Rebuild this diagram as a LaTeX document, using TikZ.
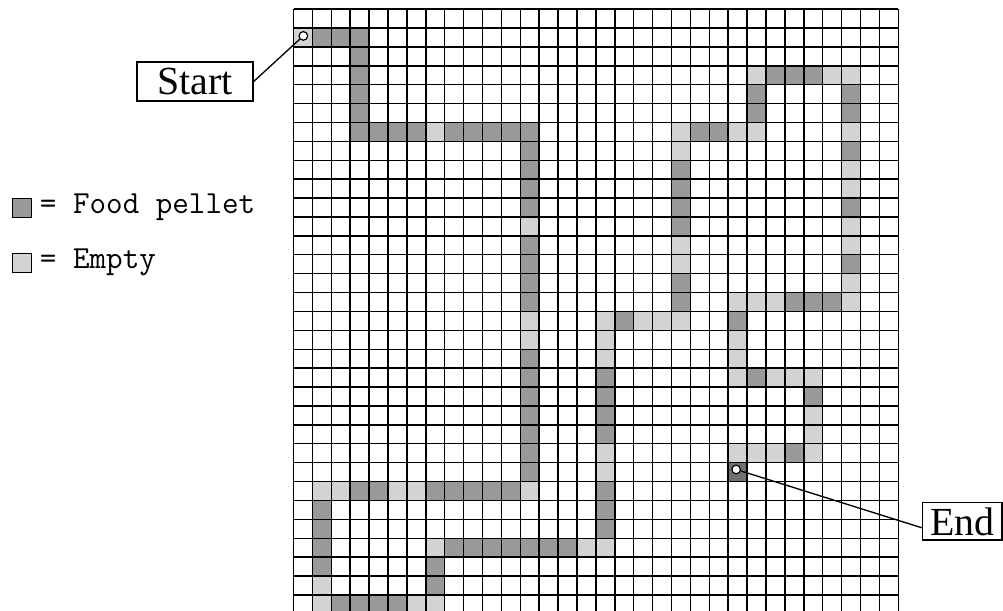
\documentclass[tikz,border=0pt]{standalone}
\usepackage{fontspec}
\setmainfont{Liberation Serif}
\usetikzlibrary{positioning}
\definecolor{foodcell}{HTML}{999999}
\definecolor{emptycell}{HTML}{D3D3D3}
\definecolor{endcell}{HTML}{707070}
\definecolor{gridline}{HTML}{000000}
\tikzset{
  gridrule/.style={
    draw=gridline,
    line width=1.1pt
  },
  keybox/.style={
    draw=black,
    line width=0.9pt,
    minimum size=0.5cm,
    inner sep=0pt
  },
  keytext/.style={
    font=\ttfamily\fontsize{24.2}{28}\selectfont,
    inner sep=0pt
  },
  labelbox/.style={
    draw=black,
    fill=white,
    line width=1pt,
    font=\fontsize{30}{36}\selectfont,
    inner sep=0pt
  },
  marker/.style={
    circle,
    draw=black,
    fill=white,
    line width=0.9pt,
    minimum size=6.5pt,
    inner sep=0pt
  },
  pointer/.style={
    draw=black,
    line width=1pt
  }
}

\begin{document}
\begin{tikzpicture}[x=0.5cm, y=-0.5cm]
  \useasboundingbox (-15.53,-1.48) rectangle (37.54,30.80);
  \clip (-15.53,-1.48) rectangle (37.54,30.80);

  % Food cells
  \foreach \c/\r in {1/0, 2/0, 3/0, 3/1, 3/2, 3/3, 3/4,
      3/5, 4/5, 5/5, 6/5, 8/5, 9/5, 10/5, 11/5, 12/5,
      12/6, 12/7, 12/8, 12/9, 12/11, 12/12, 12/13, 12/14,
      12/17, 12/18, 12/19, 12/20, 12/21, 12/22, 12/23,
      11/24, 10/24, 9/24, 8/24, 7/24, 4/24, 3/24,
      1/25, 1/26, 1/27, 1/28, 2/30, 3/30, 4/30, 5/30, 7/29, 7/28,
      8/27, 9/27, 10/27, 11/27, 12/27, 13/27, 14/27,
      16/26, 16/25, 16/24, 16/21, 16/20, 16/19, 16/18, 17/15,
      20/14, 20/13, 20/10, 20/9, 20/8, 20/7, 21/5, 22/5,
      24/4, 24/3, 25/2, 26/2, 27/2,
      29/3, 29/4, 29/6, 29/9, 29/12, 28/14, 27/14, 26/14,
      23/15, 24/18, 27/19, 26/22}
    \fill[foodcell] (\c,\r) rectangle ++(1,1);

  % Empty cells
  \foreach \c/\r in {0/0, 7/5, 12/10, 12/15, 12/16,
      12/24, 6/24, 5/24, 2/24, 1/24, 1/29, 1/30, 6/30, 7/30, 7/27,
      15/27, 16/27, 16/23, 16/22, 16/17, 16/16, 16/15,
      18/15, 19/15, 20/15, 20/12, 20/11, 20/6, 20/5, 23/5, 24/5,
      24/2, 28/2, 29/2, 29/5, 29/7, 29/8, 29/10, 29/11, 29/13, 29/14,
      25/14, 24/14, 23/14, 23/16, 23/17, 23/18, 25/18, 26/18, 27/18,
      27/20, 27/21, 27/22, 25/22, 24/22, 23/22}
    \fill[emptycell] (\c,\r) rectangle ++(1,1);

  \fill[endcell] (23,23) rectangle ++(1,1);

  % Grid
  \foreach \i in {0,...,32}
    \draw[gridrule] (\i,-1) -- (\i,31);
  \foreach \j in {-1,...,31}
    \draw[gridrule] (0,\j) -- (32,\j);

  % Markers and labels
  \node (startpt) [marker] at (0.52,0.42) {};
  \node (endpt) [marker] at (23.42,23.36) {};
  \node (startlbl) [labelbox, minimum width=3.07cm, minimum height=1.03cm] at (-5.21,2.83) {Start};
  \node (endlbl) [labelbox, minimum width=2.1cm, minimum height=0.99cm] at (35.39,26.11) {End};

  \draw [pointer] (startpt) -- (startlbl.east);
  \draw [pointer] (endpt) -- (endlbl.189);

  % Legend
  \node (foodkey) [keybox, fill=foodcell] at (-14.36,9.51) {};
  \node (emptykey) [keybox, fill=emptycell] at (-14.36,12.42) {};
  \node (foodtxt) [keytext, right=0.2cm of foodkey] {= Food pellet};
  \node (emptytxt) [keytext, right=0.2cm of emptykey] {= Empty};

\end{tikzpicture}
\end{document}
